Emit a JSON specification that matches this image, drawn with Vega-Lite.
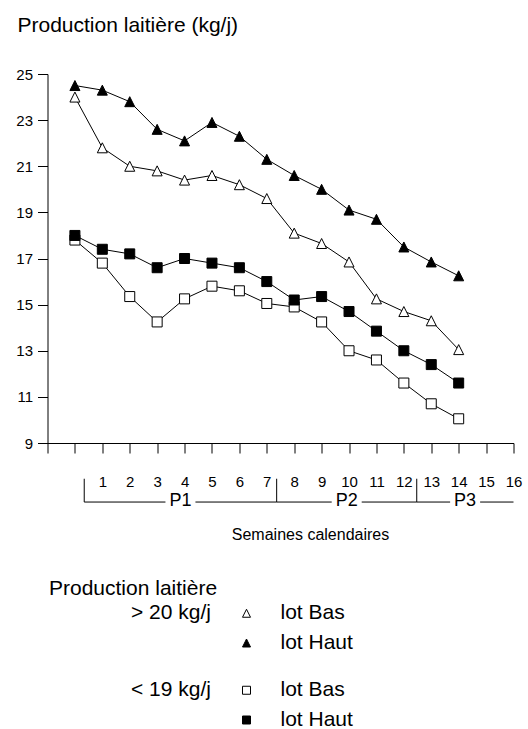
{
  "$schema": "https://vega.github.io/schema/vega-lite/v6.json",
  "width": 466,
  "height": 369,
  "autosize": {"type": "none"},
  "padding": {"left": 47.5, "top": 74, "right": 14.5, "bottom": 286},
  "background": "white",
  "title": {"text": "Production laitière", "orient": "bottom", "anchor": "start", "frame": "group", "offset": -153, "dx": 1.5, "fontSize": 21, "fontWeight": "normal", "color": "black", "baseline": "top"},
  "config": {
    "font": "Liberation Sans",
    "view": {"stroke": null},
    "axis": {"labelFontSize": 15, "labelColor": "black", "tickColor": "black", "domainColor": "black", "tickSize": 10, "grid": false, "labelFlush": false, "labelOverlap": false}
  },
  "datasets": {
    "production": [
      {"semaine": 0, "> 20 kg/j, lot Bas": 24.0, "> 20 kg/j, lot Haut": 24.5, "< 19 kg/j, lot Bas": 17.8, "< 19 kg/j, lot Haut": 18.0},
      {"semaine": 1, "> 20 kg/j, lot Bas": 21.8, "> 20 kg/j, lot Haut": 24.3, "< 19 kg/j, lot Bas": 16.8, "< 19 kg/j, lot Haut": 17.4},
      {"semaine": 2, "> 20 kg/j, lot Bas": 21.0, "> 20 kg/j, lot Haut": 23.8, "< 19 kg/j, lot Bas": 15.35, "< 19 kg/j, lot Haut": 17.2},
      {"semaine": 3, "> 20 kg/j, lot Bas": 20.8, "> 20 kg/j, lot Haut": 22.6, "< 19 kg/j, lot Bas": 14.25, "< 19 kg/j, lot Haut": 16.6},
      {"semaine": 4, "> 20 kg/j, lot Bas": 20.4, "> 20 kg/j, lot Haut": 22.1, "< 19 kg/j, lot Bas": 15.25, "< 19 kg/j, lot Haut": 17.0},
      {"semaine": 5, "> 20 kg/j, lot Bas": 20.6, "> 20 kg/j, lot Haut": 22.9, "< 19 kg/j, lot Bas": 15.8, "< 19 kg/j, lot Haut": 16.8},
      {"semaine": 6, "> 20 kg/j, lot Bas": 20.2, "> 20 kg/j, lot Haut": 22.3, "< 19 kg/j, lot Bas": 15.6, "< 19 kg/j, lot Haut": 16.6},
      {"semaine": 7, "> 20 kg/j, lot Bas": 19.6, "> 20 kg/j, lot Haut": 21.3, "< 19 kg/j, lot Bas": 15.05, "< 19 kg/j, lot Haut": 16.0},
      {"semaine": 8, "> 20 kg/j, lot Bas": 18.1, "> 20 kg/j, lot Haut": 20.6, "< 19 kg/j, lot Bas": 14.9, "< 19 kg/j, lot Haut": 15.2},
      {"semaine": 9, "> 20 kg/j, lot Bas": 17.65, "> 20 kg/j, lot Haut": 20.0, "< 19 kg/j, lot Bas": 14.25, "< 19 kg/j, lot Haut": 15.35},
      {"semaine": 10, "> 20 kg/j, lot Bas": 16.85, "> 20 kg/j, lot Haut": 19.1, "< 19 kg/j, lot Bas": 13.0, "< 19 kg/j, lot Haut": 14.7},
      {"semaine": 11, "> 20 kg/j, lot Bas": 15.25, "> 20 kg/j, lot Haut": 18.7, "< 19 kg/j, lot Bas": 12.6, "< 19 kg/j, lot Haut": 13.85},
      {"semaine": 12, "> 20 kg/j, lot Bas": 14.7, "> 20 kg/j, lot Haut": 17.5, "< 19 kg/j, lot Bas": 11.6, "< 19 kg/j, lot Haut": 13.0},
      {"semaine": 13, "> 20 kg/j, lot Bas": 14.3, "> 20 kg/j, lot Haut": 16.85, "< 19 kg/j, lot Bas": 10.7, "< 19 kg/j, lot Haut": 12.4},
      {"semaine": 14, "> 20 kg/j, lot Bas": 13.05, "> 20 kg/j, lot Haut": 16.25, "< 19 kg/j, lot Bas": 10.05, "< 19 kg/j, lot Haut": 11.6}
    ],
    "periodes": [
      {"periode": "P1", "debut": 0.34, "fin": 7.36},
      {"periode": "P2", "debut": 7.36, "fin": 12.47},
      {"periode": "P3", "debut": 12.47, "fin": 16}
    ]
  },
  "layer": [
    {
      "data": {"name": "production"},
      "transform": [
        {"fold": ["> 20 kg/j, lot Bas", "> 20 kg/j, lot Haut", "< 19 kg/j, lot Bas", "< 19 kg/j, lot Haut"], "as": ["serie", "production"]}
      ],
      "mark": {"type": "line", "color": "black", "strokeWidth": 1},
      "encoding": {
        "x": {
          "field": "semaine", "type": "quantitative",
          "scale": {"domain": [-1, 16], "nice": false, "zero": false},
          "axis": {
            "values": [-1, 0, 1, 2, 3, 4, 5, 6, 7, 8, 9, 10, 11, 12, 13, 14, 15, 16],
            "tickCount": 20,
            "labelExpr": "datum.value >= 1 ? datum.label : ''",
            "grid": false, "tickSize": 10, "tickColor": "black", "domainColor": "black",
            "labelFontSize": 15, "labelColor": "black", "labelPadding": 21,
            "labelFlush": false, "labelOverlap": false,
            "title": "Semaines calendaires", "titleFontSize": 16, "titleFontWeight": "normal", "titleColor": "black",
            "titleX": 262.5, "titleY": 91, "titleBaseline": "middle", "titleAlign": "center"
          }
        },
        "y": {
          "field": "production", "type": "quantitative",
          "scale": {"domain": [9, 25], "nice": false, "zero": false},
          "axis": {
            "values": [9, 11, 13, 15, 17, 19, 21, 23, 25],
            "tickCount": 12,
            "grid": false, "tickSize": 10, "tickColor": "black", "domainColor": "black",
            "labelFontSize": 15, "labelColor": "black", "labelPadding": 5, "labelOverlap": false,
            "title": "Production laitière (kg/j)", "titleFontSize": 21, "titleFontWeight": "normal", "titleColor": "black",
            "titleAngle": 0, "titleAlign": "left", "titleBaseline": "alphabetic", "titleX": -30.5, "titleY": -42.5
          }
        },
        "detail": {"field": "serie"},
        "order": {"field": "semaine"}
      }
    },
    {
      "data": {"name": "production"},
      "transform": [
        {"fold": ["> 20 kg/j, lot Bas", "> 20 kg/j, lot Haut", "< 19 kg/j, lot Bas", "< 19 kg/j, lot Haut"], "as": ["serie", "production"]},
        {"filter": "indexof(datum.serie, '> 20') == 0"}
      ],
      "mark": {"type": "point", "filled": true, "stroke": "black", "strokeWidth": 1, "size": 100, "opacity": 1},
      "encoding": {
        "x": {"field": "semaine", "type": "quantitative", "scale": {"domain": [-1, 16], "nice": false, "zero": false}},
        "y": {"field": "production", "type": "quantitative", "scale": {"domain": [9, 25], "nice": false, "zero": false}},
        "shape": {
          "field": "serie", "type": "nominal",
          "scale": {"domain": ["> 20 kg/j", "espace A", "> 20 kg/j, lot Bas", "> 20 kg/j, lot Haut"], "range": ["M0,0", "M0,0", "M0,-1L1,1L-1,1Z", "M0,-1L1,1L-1,1Z"]},
          "legend": {
            "title": null, "orient": "none", "legendX": 39, "legendY": 528.5, "padding": 0,
            "columns": 2, "columnPadding": 24.5, "rowPadding": 8, "labelOffset": 23.5,
            "symbolSize": 64, "symbolStrokeWidth": 1,
            "labelFontSize": 21, "labelColor": "black", "labelLimit": 300,
            "labelExpr": "indexof(datum.label, 'lot') > 0 ? slice(datum.label, indexof(datum.label, 'lot')) : (indexof(datum.label, 'kg/j') > 0 ? datum.label : '')"
          }
        },
        "fill": {
          "field": "serie", "type": "nominal",
          "scale": {"domain": ["> 20 kg/j", "espace A", "> 20 kg/j, lot Bas", "> 20 kg/j, lot Haut"], "range": ["white", "white", "white", "black"]},
          "legend": {
            "title": null, "orient": "none", "legendX": 39, "legendY": 528.5, "padding": 0,
            "columns": 2, "columnPadding": 24.5, "rowPadding": 8, "labelOffset": 23.5,
            "symbolSize": 64, "symbolStrokeWidth": 1,
            "labelFontSize": 21, "labelColor": "black", "labelLimit": 300,
            "labelExpr": "indexof(datum.label, 'lot') > 0 ? slice(datum.label, indexof(datum.label, 'lot')) : (indexof(datum.label, 'kg/j') > 0 ? datum.label : '')"
          }
        }
      }
    },
    {
      "data": {"name": "production"},
      "transform": [
        {"fold": ["> 20 kg/j, lot Bas", "> 20 kg/j, lot Haut", "< 19 kg/j, lot Bas", "< 19 kg/j, lot Haut"], "as": ["serie", "production"]},
        {"filter": "indexof(datum.serie, '< 19') == 0"}
      ],
      "mark": {"type": "point", "filled": true, "stroke": "black", "strokeWidth": 1, "size": 100, "opacity": 1},
      "encoding": {
        "x": {"field": "semaine", "type": "quantitative", "scale": {"domain": [-1, 16], "nice": false, "zero": false}},
        "y": {"field": "production", "type": "quantitative", "scale": {"domain": [9, 25], "nice": false, "zero": false}},
        "shape": {
          "field": "serie", "type": "nominal",
          "scale": {"domain": ["< 19 kg/j", "espace B", "< 19 kg/j, lot Bas", "< 19 kg/j, lot Haut"], "range": ["M0,0", "M0,0", "square", "square"]},
          "legend": {
            "title": null, "orient": "none", "legendX": 39, "legendY": 605.5, "padding": 0,
            "columns": 2, "columnPadding": 24.5, "rowPadding": 8, "labelOffset": 23.5,
            "symbolSize": 64, "symbolStrokeWidth": 1,
            "labelFontSize": 21, "labelColor": "black", "labelLimit": 300,
            "labelExpr": "indexof(datum.label, 'lot') > 0 ? slice(datum.label, indexof(datum.label, 'lot')) : (indexof(datum.label, 'kg/j') > 0 ? datum.label : '')"
          }
        },
        "fill": {
          "field": "serie", "type": "nominal",
          "scale": {"domain": ["< 19 kg/j", "espace B", "< 19 kg/j, lot Bas", "< 19 kg/j, lot Haut"], "range": ["white", "white", "white", "black"]},
          "legend": {
            "title": null, "orient": "none", "legendX": 39, "legendY": 605.5, "padding": 0,
            "columns": 2, "columnPadding": 24.5, "rowPadding": 8, "labelOffset": 23.5,
            "symbolSize": 64, "symbolStrokeWidth": 1,
            "labelFontSize": 21, "labelColor": "black", "labelLimit": 300,
            "labelExpr": "indexof(datum.label, 'lot') > 0 ? slice(datum.label, indexof(datum.label, 'lot')) : (indexof(datum.label, 'kg/j') > 0 ? datum.label : '')"
          }
        }
      }
    },
    {
      "data": {"name": "periodes"},
      "mark": {"type": "rule", "color": "black", "strokeWidth": 1},
      "encoding": {
        "x": {"field": "debut", "type": "quantitative", "scale": {"domain": [-1, 16], "nice": false, "zero": false}},
        "x2": {"field": "fin"},
        "y": {"datum": 6.44, "type": "quantitative", "scale": {"domain": [9, 25], "nice": false, "zero": false}}
      }
    },
    {
      "data": {"name": "periodes"},
      "mark": {"type": "rule", "color": "black", "strokeWidth": 1},
      "encoding": {
        "x": {"field": "debut", "type": "quantitative", "scale": {"domain": [-1, 16], "nice": false, "zero": false}},
        "y": {"datum": 6.44, "type": "quantitative", "scale": {"domain": [9, 25], "nice": false, "zero": false}},
        "y2": {"datum": 7.45}
      }
    },
    {
      "data": {"name": "periodes"},
      "transform": [{"calculate": "(datum.debut + datum.fin) / 2", "as": "milieu"}],
      "mark": {"type": "point", "shape": "M-1,-0.5L1,-0.5L1,0.5L-1,0.5Z", "size": 900, "filled": true, "fill": "white", "strokeWidth": 0, "opacity": 1},
      "encoding": {
        "x": {"field": "milieu", "type": "quantitative", "scale": {"domain": [-1, 16], "nice": false, "zero": false}},
        "y": {"datum": 6.44, "type": "quantitative", "scale": {"domain": [9, 25], "nice": false, "zero": false}}
      }
    },
    {
      "data": {"name": "periodes"},
      "transform": [{"calculate": "(datum.debut + datum.fin) / 2", "as": "milieu"}],
      "mark": {"type": "text", "fontSize": 18, "baseline": "middle", "align": "center", "color": "black"},
      "encoding": {
        "x": {"field": "milieu", "type": "quantitative", "scale": {"domain": [-1, 16], "nice": false, "zero": false}},
        "y": {"datum": 6.48, "type": "quantitative", "scale": {"domain": [9, 25], "nice": false, "zero": false}},
        "text": {"field": "periode"}
      }
    }
  ],
  "resolve": {"scale": {"shape": "independent", "fill": "independent"}}
}
